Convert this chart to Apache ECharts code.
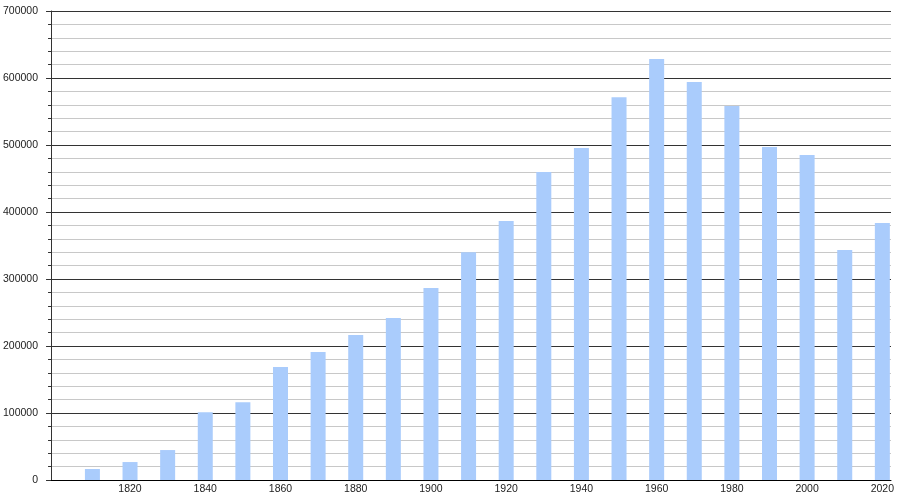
<!DOCTYPE html>
<html>
<head>
<meta charset="utf-8">
<script src="https://cdn.jsdelivr.net/npm/echarts@6/dist/echarts.min.js"></script>
<style>
  html, body { margin: 0; padding: 0; background: #fff; }
  #chart { width: 900px; height: 500px; }
</style>
</head>
<body>
<div id="chart"></div>
<script>
const years = [1810, 1820, 1830, 1840, 1850, 1860, 1870, 1880, 1890, 1900, 1910,
  1920, 1930, 1940, 1950, 1960, 1970, 1980, 1990, 2000, 2010, 2020];
const population = [16400, 26800, 44700, 101300, 116200, 168700, 191000, 216400,
  241800, 286600, 339800, 386600, 459700, 495500, 571200, 628400, 594000, 558200,
  497000, 485000, 343300, 383600];
const xLabels = [1820, 1840, 1860, 1880, 1900, 1920, 1940, 1960, 1980, 2000, 2020];

var myChart = echarts.init(document.getElementById("chart"));
var option = {
  animation: false,
  grid: {
    left: 50,
    right: 9,
    top: 11,
    bottom: 20,
  },
  xAxis: {
    type: "value",
    min: 1799,
    max: 2022.3,
    axisLine: {
      show: true,
      lineStyle: { color: "#000", width: 1 },
    },
    axisTick: { show: false },
    splitLine: { show: false },
    axisLabel: {
      customValues: xLabels,
      formatter: (v) => String(v),
      fontFamily: "Liberation Sans",
      fontSize: 10.5,
      color: "#222",
      margin: 4,
    },
  },
  yAxis: {
    type: "value",
    min: 0,
    max: 700000,
    interval: 100000,
    axisLine: {
      show: true,
      lineStyle: { color: "#333", width: 1 },
    },
    axisTick: {
      show: true,
      length: 5,
      lineStyle: { color: "#333" },
    },
    minorTick: {
      show: true,
      splitNumber: 5,
      length: 3,
      lineStyle: { color: "#333" },
    },
    splitLine: {
      show: true,
      lineStyle: { color: "#333", width: 1 },
    },
    minorSplitLine: {
      show: true,
      lineStyle: { color: "#c8c8c8", width: 1 },
    },
    axisLabel: {
      formatter: (v) => String(v),
      fontFamily: "Liberation Sans",
      fontSize: 10.5,
      color: "#222",
      margin: 13,
    },
  },
  series: [
    {
      type: "bar",
      data: years.map((y, i) => [y, population[i]]),
      barWidth: 15,
      itemStyle: { color: "#aaccfc" },
    },
  ],
};
myChart.setOption(option);
</script>
</body>
</html>
